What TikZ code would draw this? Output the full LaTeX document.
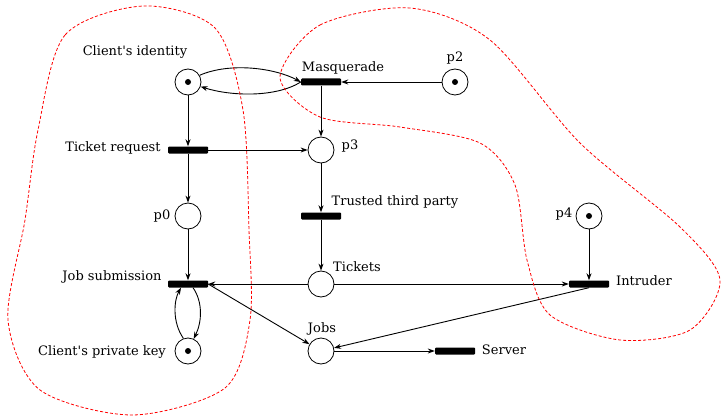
\documentclass[tikz,border=0pt]{standalone}
\usepackage{fontspec}
\setmainfont{DejaVu Serif}
\usetikzlibrary{arrows.meta}
\newcommand{\cq}{\textquotesingle}
\begin{document}
\begin{tikzpicture}[x=1pt, y=-1pt,
  >={Stealth[length=7pt,width=5pt]},
  place/.style={circle, draw, line width=0.8pt, minimum size=26pt, inner sep=0pt},
  marked/.style={place, path picture={\fill (path picture bounding box.center) circle (3pt);}},
  trans/.style={rectangle, fill, rounded corners=1pt, minimum width=40pt, minimum height=7pt, inner sep=0pt},
  lbl/.style={font=\fontsize{13}{15}\selectfont, inner sep=0pt},
  arc/.style={->, line width=0.9pt},
  zone/.style={red, dash pattern=on 3pt off 2pt, line width=0.8pt}]
  \useasboundingbox (0,0) rectangle (722,417);
  % places and transitions
  \node[marked] (ident)   at (188,82)  {};
  \node[trans]  (masq)    at (321,82)  {};
  \node[marked] (ptwo)    at (455,82)  {};
  \node[trans]  (treq)    at (188,150) {};
  \node[place]  (pthree)  at (321,150) {};
  \node[place]  (pzero)   at (188,216) {};
  \node[trans]  (ttp)     at (321,216) {};
  \node[marked] (pfour)   at (589,216) {};
  \node[trans]  (jsub)    at (188,284) {};
  \node[place]  (tickets) at (321,284) {};
  \node[trans]  (intr)    at (589,284) {};
  \node[marked] (pkey)    at (188,351) {};
  \node[place]  (jobs)    at (321,351) {};
  \node[trans]  (server)  at (455,351) {};
  % labels
  \node[lbl] (identlbl)   at (135,52)  {Client\cq s identity};
  \node[lbl] (masqlbl)    at (343,68)  {Masquerade};
  \node[lbl] (ptwolbl)    at (455,58)  {p2};
  \node[lbl] (treqlbl)    at (113,148) {Ticket request};
  \node[lbl] (pthreelbl)  at (350,146) {p3};
  \node[lbl] (ttplbl)     at (395,202) {Trusted third party};
  \node[lbl] (pzerolbl)   at (162,216) {p0};
  \node[lbl] (pfourlbl)   at (564,214) {p4};
  \node[lbl] (jsublbl)    at (112,277) {Job submission};
  \node[lbl] (ticketslbl) at (357,267) {Tickets};
  \node[lbl] (intrlbl)    at (644,281) {Intruder};
  \node[lbl] (jobslbl)    at (322,329) {Jobs};
  \node[lbl] (pkeylbl)    at (102,352) {Client\cq s private key};
  \node[lbl] (serverlbl)  at (504,350) {Server};
  % arcs
  \draw[arc] (ident.30) .. controls (230,62) and (275,68) .. (masq.west);
  \draw[arc] (masq.west) .. controls (275,98) and (230,96) .. (ident.-20);
  \draw[arc] (ptwo) -- (masq.east);
  \draw[arc] (masq) -- (pthree);
  \draw[arc] (ident) -- (treq);
  \draw[arc] (treq.east) -- (pthree);
  \draw[arc] (treq) -- (pzero);
  \draw[arc] (pthree) -- (ttp);
  \draw[arc] (ttp) -- (tickets);
  \draw[arc] (pzero) -- (jsub);
  \draw[arc] (tickets) -- (jsub.east);
  \draw[arc] (tickets) -- (intr.west);
  \draw[arc] (pfour) -- (intr);
  \draw[arc] (pkey.110) .. controls (172,322) and (174,300) .. ([xshift=-7pt]jsub.south);
  \draw[arc] ([xshift=5pt]jsub.south) .. controls (203,302) and (202,322) .. (pkey.65);
  \draw[arc] (jsub.east) -- (jobs);
  \draw[arc] (intr.south) -- (jobs);
  \draw[arc] (jobs) -- (server.west);
  % zones
  \draw[zone] plot[smooth cycle] coordinates {(143,6) (65,35) (38,130) (25,220) (8,320)
    (40,390) (133,415) (225,388) (250,320) (249,230) (243,110) (215,28)};
  \draw[zone] plot[smooth cycle] coordinates {(280,77) (320,25) (410,8) (490,40)
    (580,143) (680,227) (720,280) (690,330) (620,340) (550,315) (527,260) (515,185)
    (480,143) (400,127) (320,117)};
\end{tikzpicture}
\end{document}
